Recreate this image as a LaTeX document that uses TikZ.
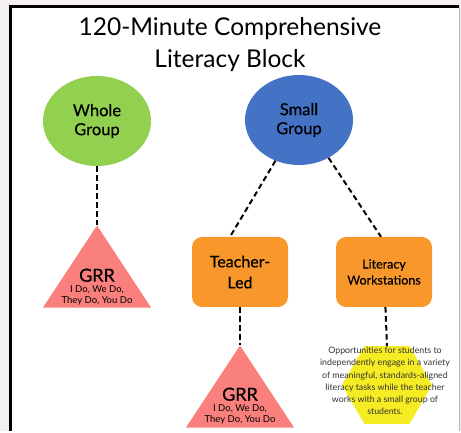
\documentclass[tikz,border=0pt]{standalone}
\usepackage{fontspec}
\setmainfont{Lato}
\newfontfamily\medfont[FakeBold=0.5]{Lato}
\usetikzlibrary{shapes.geometric}
\definecolor{grassgreen}{RGB}{146,208,80}
\definecolor{royalblue}{RGB}{68,114,196}
\definecolor{tangerine}{RGB}{248,152,44}
\definecolor{salmonpink}{RGB}{250,128,125}
\definecolor{lemonyellow}{RGB}{246,236,36}
\definecolor{paleframe}{RGB}{244,240,242}

\begin{document}
\begin{tikzpicture}[x=1pt,y=-1pt]
  \tikzset{GroupStyle/.style = {
    shape         = ellipse,
    draw          = none,
    inner sep     = 0pt,
    minimum width = 108pt,
    minimum height= 90pt,
    align         = center,
    text          = black,
    font          = \medfont\fontsize{16.5}{19}\selectfont
    }
  }
  \tikzset{TaskStyle/.style = {
    shape         = rectangle,
    rounded corners = 10pt,
    fill          = tangerine,
    inner sep     = 0pt,
    minimum width = 96pt,
    minimum height= 70pt,
    align         = center,
    text          = black
    }
  }
  \tikzset{TriStyle/.style = {
    shape         = isosceles triangle,
    shape border rotate = 90,
    isosceles triangle stretches,
    fill          = salmonpink,
    inner sep     = 0pt,
    minimum width = 108pt,
    minimum height= 82pt,
    anchor        = apex
    }
  }
  \tikzset{GRRText/.style = {
    align         = center,
    inner sep     = 0pt,
    font          = \fontsize{9.5}{11}\selectfont
    }
  }
  \tikzset{EdgeStyle/.style = {
    draw          = black,
    line width    = 2pt,
    dash pattern  = on 5.5pt off 3.5pt
    }
  }

  % page and frame
  \fill[paleframe] (0,0) rectangle (461,431);
  \fill[white] (10,7) rectangle (459,431);
  \draw[gray!60, line width=1pt] (459,7) -- (459,431);
  \draw[black, line width=3pt] (10,431) -- (10,7) -- (459,7);
  \useasboundingbox (0,0) rectangle (461,431);

  \node[align=center, font=\fontsize{24.5}{32}\selectfont] (title) at (230,45)
    {120-Minute Comprehensive\\Literacy Block};

  \node[GroupStyle, fill=grassgreen](whole) at (97,121) {Whole\\Group};
  \node[GroupStyle, fill=royalblue](small) at (299,120) {Small\\Group};

  \node[TaskStyle, font=\medfont\fontsize{16}{21}\selectfont](teacher) at (240,272) {Teacher-\\Led};
  \node[TaskStyle, font=\medfont\fontsize{12.5}{16}\selectfont](stations) at (384,272) {Literacy\\Workstations};

  \node[TriStyle](triL) at (97,225) {};
  \node[TriStyle](triB) at (240,345) {};
  \node[GRRText](grrL) at (97,287) {{\medfont\fontsize{18}{20}\selectfont GRR}\\I Do, We Do,\\They Do, You Do};
  \node[GRRText](grrB) at (240,406) {{\medfont\fontsize{18}{20}\selectfont GRR}\\I Do, We Do,\\They Do, You Do};

  \node[regular polygon, regular polygon sides=6, fill=lemonyellow, inner sep=0pt,
        minimum size=90pt](hex) at (387,385) {};
  \node[align=center, text=black!80, inner sep=0pt, font=\fontsize{8.8}{12.3}\selectfont](hexText) at (385,381)
    {Opportunities for students to\\independently engage in a variety\\of meaningful, standards-aligned\\literacy tasks while the teacher\\works with a small group of\\students.};

  \draw[EdgeStyle](whole) to (triL.apex);
  \draw[EdgeStyle](small.240) to ([xshift=-10pt]teacher.north);
  \draw[EdgeStyle](small.-52) to ([xshift=-3pt]stations.north);
  \draw[EdgeStyle](teacher) to (triB.apex);
  \draw[EdgeStyle](stations) to (hex.north);

\end{tikzpicture}
\end{document}
